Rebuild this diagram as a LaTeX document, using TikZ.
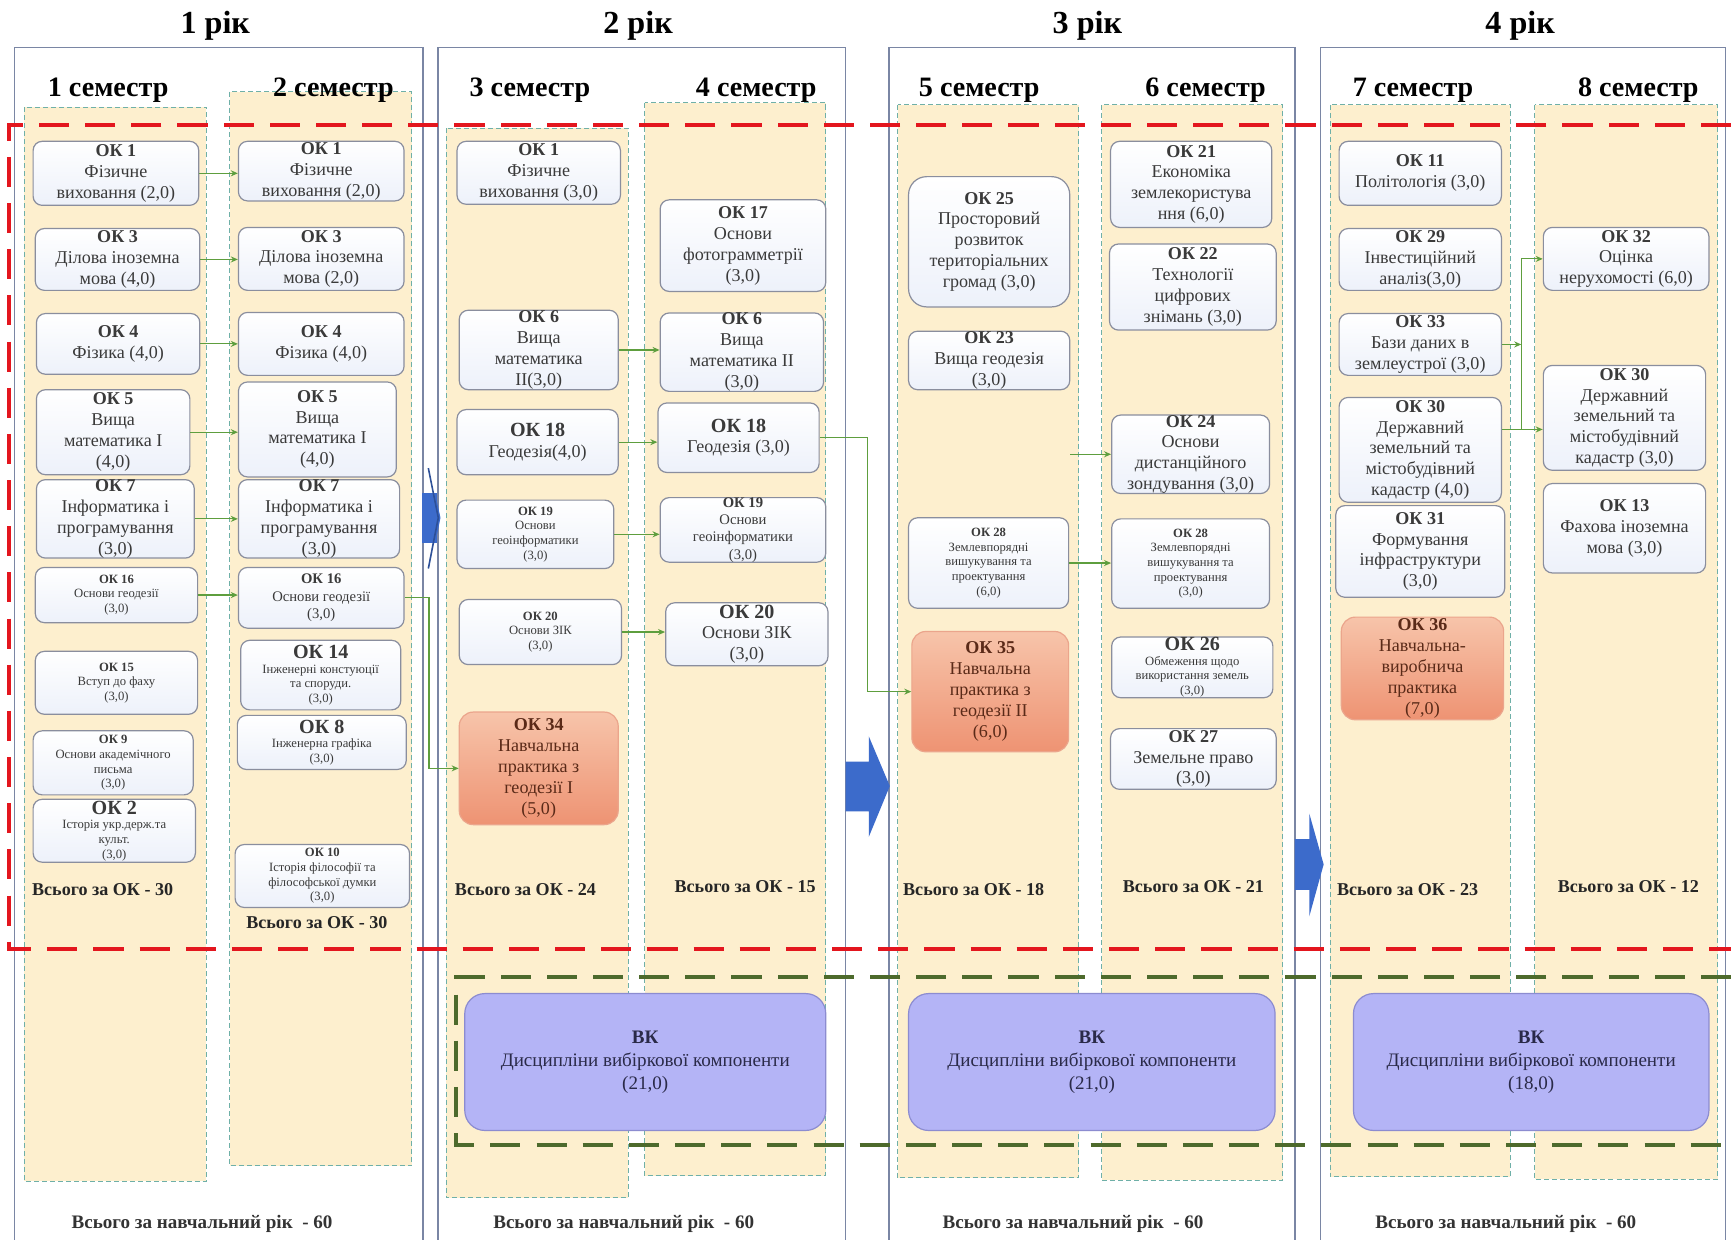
\documentclass[tikz,border=0pt]{standalone}
\usepackage{fontspec}
\setmainfont{Liberation Serif}
\usetikzlibrary{arrows.meta,calc}
\definecolor{colfill}{HTML}{FDEFCE}
\definecolor{colbord}{HTML}{6FB0A8}
\definecolor{yearbord}{HTML}{7A86A4}
\definecolor{boxbord}{HTML}{8A8E9E}
\definecolor{boxbot}{HTML}{EDF1FA}
\definecolor{txt}{HTML}{3A3A3A}
\definecolor{prtop}{HTML}{F7C4AA}
\definecolor{prbot}{HTML}{EE9373}
\definecolor{prbord}{HTML}{EBA58C}
\definecolor{prtxt}{HTML}{5A2A18}
\definecolor{vkfill}{HTML}{B4B4F6}
\definecolor{vkbord}{HTML}{8C8CD0}
\definecolor{vktxt}{HTML}{2A2A48}
\definecolor{redd}{HTML}{E3161E}
\definecolor{grnd}{HTML}{4D6A2C}
\definecolor{connc}{HTML}{5E9E3E}
\definecolor{bluea}{HTML}{3C6BCB}
\newcommand\myfn{\fontsize{9}{10.4}\selectfont}
\newcommand\mysm{\fontsize{6.3}{7.3}\selectfont}
\newcommand\mymd{\fontsize{7.3}{8.6}\selectfont}
\newcommand\mybg{\fontsize{10}{11}\selectfont}
\newcommand\mybox[7][bx]{\node[#1,minimum width={(#5-#3)*0.55pt},minimum height={(#6-#4)*0.55pt}] (#2) at ({(#3+#5)/2},{(#4+#6)/2}) {#7};}
\tikzset{
  col/.style={fill=colfill, draw=colbord, dash pattern=on 2.5pt off 1.5pt, line width=0.5pt},
  yr/.style={draw=yearbord, line width=0.8pt},
  bx/.style={rounded corners=4.5pt, draw=boxbord, line width=0.6pt, top color=white, bottom color=boxbot, align=center, inner sep=0pt, text=txt, font=\myfn},
  pr/.style={rounded corners=7pt, draw=prbord, top color=prtop, bottom color=prbot, text=prtxt},
  vkb/.style={rounded corners=10pt, draw=vkbord, line width=0.6pt, fill=vkfill, align=center, inner sep=0pt, text=vktxt, font=\fontsize{9.5}{11.5}\selectfont},
  cn/.style={draw=connc, line width=0.6pt, -{Stealth[length=3.5pt,width=3pt]}},
  rdash/.style={draw=redd, line width=2pt, dash pattern=on 15pt off 8pt},
  gdash/.style={draw=grnd, line width=2pt, dash pattern=on 15pt off 8pt},
  barrow/.style={fill=bluea, draw=none},
  yhead/.style={font=\bfseries\fontsize{16}{18}\selectfont},
  shead/.style={font=\bfseries\fontsize{14}{16}\selectfont},
  tot/.style={font=\bfseries\fontsize{9}{10}\selectfont, text=black!85},
  ytot/.style={font=\bfseries\fontsize{9.5}{11}\selectfont, text=black!80},
}
\begin{document}
\begin{tikzpicture}[x=0.55pt,y=-0.55pt]
\useasboundingbox (0,0) rectangle (1568,1123);
\fill[white] (0,0) rectangle (1568,1123);
% year frames
\draw[yr] (13,1130) |- (383,43) -- (383,1130);
\draw[yr] (397,1130) |- (766,43) -- (766,1130);
\draw[yr] (805,1130) |- (1173,43) -- (1173,1130);
\draw[yr] (1196,1130) |- (1563,43) -- (1563,1130);
% semester columns
\draw[col] (22,97) rectangle (187,1070);
\draw[col] (208,83) rectangle (373,1056);
\draw[col] (404,116) rectangle (569,1085);
\draw[col] (584,93) rectangle (748,1065);
\draw[col] (813,95) rectangle (977,1067);
\draw[col] (998,95) rectangle (1162,1069);
\draw[col] (1205,95) rectangle (1368,1066);
\draw[col] (1390,95) rectangle (1556,1068);
% dashed frames
\draw[rdash] (1568,113) -- (8,113) -- (8,860) -- (1568,860);
\draw[gdash] (1568,885) -- (413,885) -- (413,1037) -- (1568,1037);
% headings
\node[yhead] (y1) at (195,23) {1 рік};
\node[yhead] (y2) at (578,23) {2 рік};
\node[yhead] (y3) at (985,23) {3 рік};
\node[yhead] (y4) at (1377,23) {4 рік};
\node[shead] (s1) at (98,82) {1 семестр};
\node[shead] (s2) at (302,82) {2 семестр};
\node[shead] (s3) at (480,82) {3 семестр};
\node[shead] (s4) at (685,82) {4 семестр};
\node[shead] (s5) at (887,82) {5 семестр};
\node[shead] (s6) at (1092,82) {6 семестр};
\node[shead] (s7) at (1280,82) {7 семестр};
\node[shead] (s8) at (1484,82) {8 семестр};
% semester 1
\mybox{a1}{30}{128}{180}{186}{\textbf{ОК 1}\\Фізичне\\виховання (2,0)}
\mybox{a2}{32}{207}{181}{263}{\textbf{ОК 3}\\Ділова іноземна\\мова (4,0)}
\mybox{a3}{33}{284}{181}{339}{\textbf{ОК 4}\\Фізика (4,0)}
\mybox{a4}{33}{353}{172}{430}{\textbf{ОК 5}\\Вища\\математика І\\(4,0)}
\mybox{a5}{33}{437}{176}{503}{\textbf{ОК 7}\\Інформатика і\\програмування\\(3,0)}
\mybox[bx,font=\mysm]{a6}{32}{514}{179}{564}{\textbf{ОК 16}\\Основи геодезії\\(3,0)}
\mybox[bx,font=\mysm]{a7}{32}{590}{179}{647}{\textbf{ОК 15}\\Вступ до фаху\\(3,0)}
\mybox[bx,font=\mysm]{a8}{30}{662}{175}{720}{\textbf{ОК 9}\\Основи академічного\\письма\\(3,0)}
\mybox[bx,font=\mysm]{a9}{30}{724}{177}{781}{{\mybg\textbf{ОК 2}}\\Історія укр.держ.та\\культ.\\(3,0)}
% semester 2
\mybox{b1}{216}{128}{366}{182}{\textbf{ОК 1}\\Фізичне\\виховання (2,0)}
\mybox{b2}{216}{206}{366}{263}{\textbf{ОК 3}\\Ділова іноземна\\мова (2,0)}
\mybox{b3}{216}{283}{366}{340}{\textbf{ОК 4}\\Фізика (4,0)}
\mybox{b4}{216}{346}{359}{432}{\textbf{ОК 5}\\Вища\\математика І\\(4,0)}
\mybox{b5}{216}{437}{362}{503}{\textbf{ОК 7}\\Інформатика і\\програмування\\(3,0)}
\mybox[bx,font=\mymd]{b6}{216}{514}{366}{569}{\textbf{ОК 16}\\Основи геодезії\\(3,0)}
\mybox[bx,font=\mysm]{b7}{218}{580}{363}{643}{{\mybg\textbf{ОК 14}}\\Інженерні констуюції\\та споруди.\\(3,0)}
\mybox[bx,font=\mysm]{b8}{215}{648}{368}{697}{{\mybg\textbf{ОК 8}}\\Інженерна графіка\\(3,0)}
\mybox[bx,font=\mysm]{b9}{213}{765}{371}{822}{\textbf{ОК 10}\\Історія філософії та\\філософської думки\\(3,0)}
% semester 3
\mybox{c1}{414}{128}{562}{185}{\textbf{ОК 1}\\Фізичне\\виховання (3,0)}
\mybox{c2}{416}{281}{560}{353}{\textbf{ОК 6}\\Вища\\математика\\ІІ(3,0)}
\mybox{c3}{414}{371}{560}{430}{{\mybg\textbf{ОК 18}}\\Геодезія(4,0)}
\mybox[bx,font=\mysm]{c4}{414}{453}{556}{515}{\textbf{ОК 19}\\Основи\\геоінформатики\\(3,0)}
\mybox[bx,font=\mysm]{c5}{416}{543}{563}{602}{\textbf{ОК 20}\\Основи ЗІК\\(3,0)}
\mybox[bx,pr]{c6}{416}{645}{560}{747}{\textbf{ОК 34}\\Навчальна\\практика з\\геодезії І\\(5,0)}
% semester 4
\mybox{d1}{598}{181}{748}{264}{\textbf{ОК 17}\\Основи\\фотограмметрії\\(3,0)}
\mybox{d2}{598}{285}{746}{353}{\textbf{ОК 6}\\Вища\\математика ІІ\\(3,0)}
\mybox{d3}{596}{365}{742}{428}{{\mybg\textbf{ОК 18}}\\Геодезія (3,0)}
\mybox[bx,font=\mymd]{d4}{598}{452}{748}{508}{\textbf{ОК 19}\\Основи\\геоінформатики\\(3,0)}
\mybox{d5}{603}{546}{750}{603}{{\mybg\textbf{ОК 20}}\\Основи ЗІК\\(3,0)}
% semester 5
\mybox[bx,rounded corners=9pt]{e1}{823}{160}{969}{278}{\textbf{ОК 25}\\Просторовий\\розвиток\\територіальних\\громад (3,0)}
\mybox{e2}{823}{300}{969}{353}{\textbf{ОК 23}\\Вища геодезія\\(3,0)}
\mybox[bx,font=\mysm]{e3}{823}{469}{968}{551}{\textbf{ОК 28}\\Землевпорядні\\вишукування та\\проектування\\(6,0)}
\mybox[bx,pr]{e4}{826}{572}{968}{681}{\textbf{ОК 35}\\Навчальна\\практика з\\геодезії ІІ\\(6,0)}
% semester 6
\mybox{f1}{1006}{128}{1152}{206}{\textbf{ОК 21}\\Економіка\\землекористува\\ння (6,0)}
\mybox{f2}{1005}{221}{1156}{299}{\textbf{ОК 22}\\Технології\\цифрових\\знімань (3,0)}
\mybox{f3}{1007}{376}{1150}{447}{\textbf{ОК 24}\\Основи\\дистанційного\\зондування (3,0)}
\mybox[bx,font=\mysm]{f4}{1007}{470}{1150}{551}{\textbf{ОК 28}\\Землевпорядні\\вишукування та\\проектування\\(3,0)}
\mybox[bx,font=\mysm]{f5}{1007}{577}{1153}{632}{{\mybg\textbf{ОК 26}}\\Обмеження щодо\\використання земель\\(3,0)}
\mybox{f6}{1006}{660}{1156}{715}{\textbf{ОК 27}\\Земельне право\\(3,0)}
% semester 7
\mybox{g1}{1213}{128}{1360}{186}{\textbf{ОК 11}\\Політологія (3,0)}
\mybox{g2}{1213}{207}{1360}{263}{\textbf{ОК 29}\\Інвестиційний\\аналіз(3,0)}
\mybox{g3}{1213}{284}{1360}{340}{\textbf{ОК 33}\\Бази даних в\\землеустрої (3,0)}
\mybox{g4}{1213}{360}{1360}{455}{\textbf{ОК 30}\\Державний\\земельний та\\містобудівний\\кадастр (4,0)}
\mybox{g5}{1210}{458}{1363}{541}{\textbf{ОК 31}\\Формування\\інфраструктури\\(3,0)}
\mybox[bx,pr]{g6}{1215}{559}{1362}{652}{\textbf{ОК 36}\\Навчальна-\\виробнича\\практика\\(7,0)}
% semester 8
\mybox{h1}{1398}{206}{1548}{263}{\textbf{ОК 32}\\Оцінка\\нерухомості (6,0)}
\mybox{h2}{1398}{331}{1545}{426}{\textbf{ОК 30}\\Державний\\земельний та\\містобудівний\\кадастр (3,0)}
\mybox{h3}{1398}{438}{1545}{519}{\textbf{ОК 13}\\Фахова іноземна\\мова (3,0)}
% elective blocks
\mybox[vkb]{vk1}{421}{900}{748}{1024}{\textbf{ВК}\\Дисципліни вибіркової компоненти\\(21,0)}
\mybox[vkb]{vk2}{823}{900}{1155}{1024}{\textbf{ВК}\\Дисципліни вибіркової компоненти\\(21,0)}
\mybox[vkb]{vk3}{1226}{900}{1548}{1024}{\textbf{ВК}\\Дисципліни вибіркової компоненти\\(18,0)}
% connectors
\foreach \i in {1,...,6} \draw[cn] (a\i.east) -- (a\i.east -| b\i.west);
\draw[cn] (b6.east) -- ++(22,0) |- (c6.west);
\foreach \i in {2,...,5} \draw[cn] (c\i.east) -- (c\i.east -| d\i.west);
\draw[cn] (d3.east) -- ++(43,0) |- (e4.west);
\coordinate (f3in) at ($(f3.west)+(-37,0)$);
\draw[cn] (f3in) -- (f3.west);
\draw[cn] (e3.east) -- (e3.east -| f4.west);
\coordinate (jx) at (1378,389);
\draw[cn] (g4.east |- jx) -- (h2.west |- jx);
\draw[cn] (g3.east) -- (g3.east -| jx);
\draw[cn] (jx) |- (h1.west);
% blue transition arrows
\fill[barrow] (382,447) rectangle (396,492);
\fill[barrow] (396,455) -- (399,469) -- (396,484) -- cycle;
\draw[bluea!75!black, line width=0.8pt] (388,424) -- (397,469) -- (388,515);
\fill[barrow] (766,690) -- (787,690) -- (787,667) -- (806,712) -- (787,758) -- (787,735) -- (766,735) -- cycle;
\fill[barrow] (1173,760) -- (1186,760) -- (1186,737) -- (1199,783) -- (1186,830) -- (1186,806) -- (1173,806) -- cycle;
% totals
\node[tot] (t1) at (93,806) {Всього за ОК - 30};
\node[tot] (t2) at (287,836) {Всього за ОК - 30};
\node[tot] (t3) at (476,806) {Всього за ОК - 24};
\node[tot] (t4) at (675,803) {Всього за ОК - 15};
\node[tot] (t5) at (882,806) {Всього за ОК - 18};
\node[tot] (t6) at (1081,803) {Всього за ОК - 21};
\node[tot] (t7) at (1275,806) {Всього за ОК - 23};
\node[tot] (t8) at (1475,803) {Всього за ОК - 12};
\node[ytot] (r1) at (183,1109) {Всього за навчальний рік~ - 60};
\node[ytot] (r2) at (565,1109) {Всього за навчальний рік~ - 60};
\node[ytot] (r3) at (972,1109) {Всього за навчальний рік~ - 60};
\node[ytot] (r4) at (1364,1109) {Всього за навчальний рік~ - 60};
\end{tikzpicture}
\end{document}
